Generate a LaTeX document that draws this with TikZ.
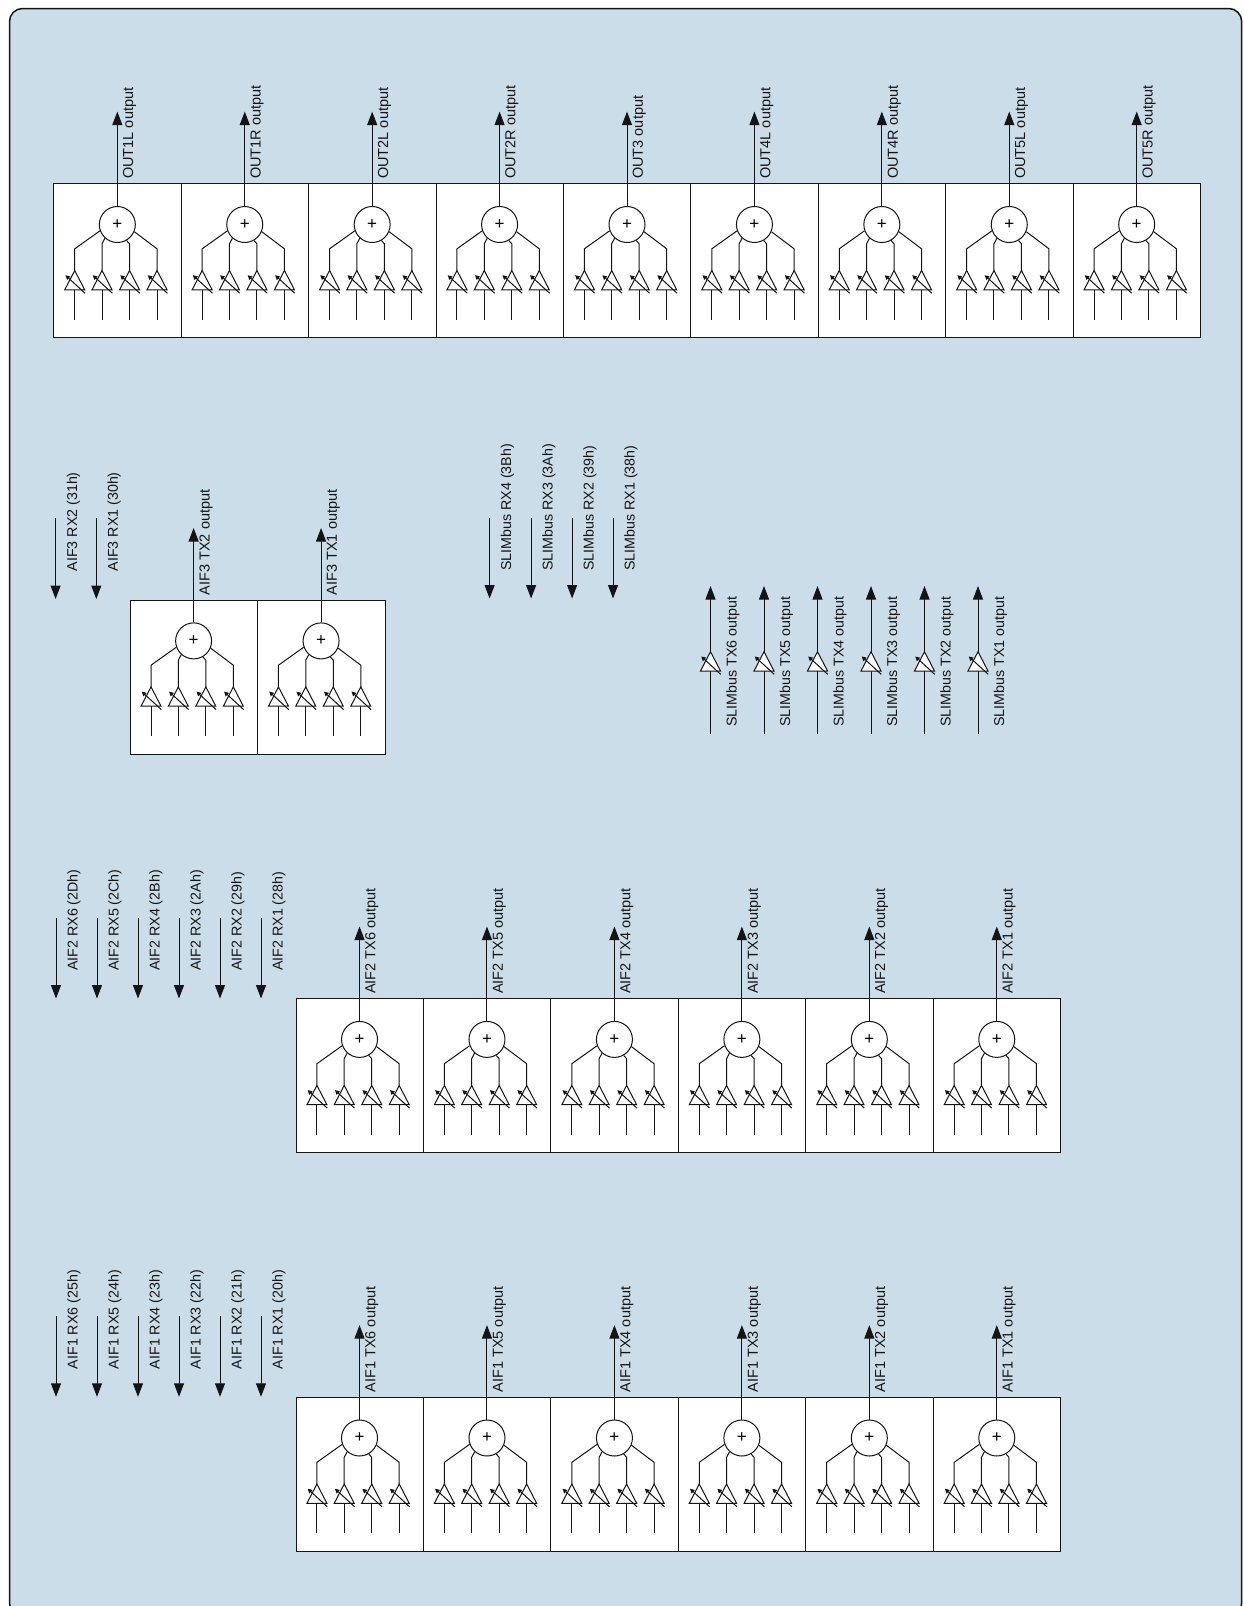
\documentclass[tikz,border=0pt]{standalone}
\usepackage{fontspec}
\setmainfont{Liberation Sans}
\usetikzlibrary{arrows.meta,calc}
\definecolor{panelblue}{RGB}{203,221,233}
\definecolor{inkline}{RGB}{20,20,20}
\tikzset{
  x=1pt,y=-1pt,
  wire/.style={draw=inkline,line width=1pt},
  sigarrow/.style={wire,-{Triangle[length=13.5pt,width=10pt]}},
  mixbox/.style={draw=inkline,line width=1pt,fill=white,minimum width=127.45pt,minimum height=154pt,inner sep=0,anchor=north west},
  sumcircle/.style={circle,draw=inkline,line width=1pt,fill=white,minimum size=36pt,inner sep=0,font=\fontsize{17}{17}\selectfont},
  lab/.style={rotate=90,anchor=base west,inner sep=0,text=inkline,font=\fontsize{14.25}{14.25}\selectfont},
  outlab/.style={lab,font=\fontsize{14.5}{14.5}\selectfont},
  amptri/.style={wire,fill=white,line join=miter},
  ampslash/.style={draw=inkline,line width=1pt,{Triangle[length=4.5pt,width=4.5pt]}-},
}
% amplifier triangle: name, apex coordinate
\newcommand{\ampl}[2]{%
  \coordinate (#1apex) at #2;
  \coordinate (#1bl) at ($(#1apex)+(-10,19.3)$);
  \coordinate (#1br) at ($(#1apex)+(10,19.3)$);
  \coordinate (#1s) at ($(#1apex)+(-9.3,4.7)$);
  \coordinate (#1e) at ($(#1apex)+(10.3,22.7)$);
  \draw[amptri] (#1apex) -- (#1bl) -- (#1br) -- cycle;
  \draw[ampslash] (#1s) -- (#1e);
}
% mixer: name, left x, top y, label
\newcommand{\mixer}[4]{%
  \node[mixbox] (#1box) at (#2,#3) {};
  \node[sumcircle] (#1sum) at ($(#1box.north)+(-0.2,41.1)$) {+};
  \coordinate (#1tip) at ($(#1box.north)+(-0.2,-71.8)$);
  \draw[sigarrow] (#1sum.north) -- (#1tip);
  \node[outlab] (#1lab) at ($(#1box.north)+(15.7,-4.4)$) {#4};
  \foreach \i/\dx/\ang/\elb in {1/-42.6/200/65.4,2/-15.3/228/60.4,3/12.2/300/60.4,4/39.7/337/65.4}{%
    \coordinate (#1top\i) at ($(#1sum.center)+(\dx,\elb-41.1)$);
    \coordinate (#1a\i) at ($(#1sum.center)+(\dx,46)$);
    \coordinate (#1in\i) at ($(#1sum.center)+(\dx,95.3)$);
    \draw[wire,line join=miter] (#1sum.\ang) -- (#1top\i) -- (#1a\i);
    \draw[wire] (#1in\i) -- ($(#1a\i)+(0,19.3)$);
    \ampl{#1amp\i}{(#1a\i)}%
  }%
}
% free input arrow: name, x, tip y, label
\newcommand{\rxline}[4]{%
  \coordinate (#1tip) at (#2,#3);
  \coordinate (#1start) at (#2,#3-81);
  \draw[sigarrow] (#1start) -- (#1tip);
  \node[lab] (#1lab) at (#2+21.6,#3-27.5) {#4};
}
% SLIMbus TX: name, x, label
\newcommand{\txline}[3]{%
  \coordinate (#1tip) at (#2,586);
  \coordinate (#1start) at (#2,734);
  \draw[sigarrow] (#1start) -- (#1tip);
  \ampl{#1amp}{(#2,651.7)}%
  \node[lab] (#1lab) at (#2+26,726.7) {#3};
}
\begin{document}
\begin{tikzpicture}
\useasboundingbox (0,0) rectangle (1243,1606);
\begin{scope}
\clip (0,0) rectangle (1243,1606);
\draw[draw=inkline,line width=1.5pt,fill=panelblue,rounded corners=13pt] (9.5,8.5) rectangle (1241.7,1616);
\end{scope}
% outputs
\foreach \n/\t [count=\k from 0] in {a/OUT1L,b/OUT1R,c/OUT2L,d/OUT2R,e/OUT3,f/OUT4L,g/OUT4R,h/OUT5L,i/OUT5R}{%
  \pgfmathsetmacro{\xx}{53.3+127.42*\k}
  \mixer{out\n}{\xx}{183.4}{\t\ output}
}
% AIF3
\rxline{aifthreerxb}{55.6}{599}{AIF3 RX2 (31h)}
\rxline{aifthreerxa}{96.3}{599}{AIF3 RX1 (30h)}
\mixer{aifthreeb}{129.6}{599.8}{AIF3 TX2 output}
\mixer{aifthreea}{257.05}{599.8}{AIF3 TX1 output}
% SLIMbus RX
\rxline{slimrxd}{489.6}{598.5}{SLIMbus RX4 (3Bh)}
\rxline{slimrxc}{531.1}{598.5}{SLIMbus RX3 (3Ah)}
\rxline{slimrxb}{572.1}{598.5}{SLIMbus RX2 (39h)}
\rxline{slimrxa}{613}{598.5}{SLIMbus RX1 (38h)}
% SLIMbus TX
\foreach \n/\v [count=\k from 0] in {f/6,e/5,d/4,c/3,b/2,a/1}{%
  \pgfmathsetmacro{\xx}{710.5+53.5*\k}
  \txline{slimtx\n}{\xx}{SLIMbus TX\v\ output}
}
% AIF2
\foreach \n/\v/\h [count=\k from 0] in {f/6/2Dh,e/5/2Ch,d/4/2Bh,c/3/2Ah,b/2/29h,a/1/28h}{%
  \pgfmathsetmacro{\xx}{56+41*\k}
  \rxline{aiftworx\n}{\xx}{998.5}{AIF2 RX\v\ (\h)}
  \pgfmathsetmacro{\bx}{295.5+127.45*\k}
  \mixer{aiftwo\n}{\bx}{998.3}{AIF2 TX\v\ output}
}
% AIF1
\foreach \n/\v/\h [count=\k from 0] in {f/6/25h,e/5/24h,d/4/23h,c/3/22h,b/2/21h,a/1/20h}{%
  \pgfmathsetmacro{\xx}{56+41*\k}
  \rxline{aifonerx\n}{\xx}{1396.8}{AIF1 RX\v\ (\h)}
  \pgfmathsetmacro{\bx}{295.5+127.45*\k}
  \mixer{aifone\n}{\bx}{1396.9}{AIF1 TX\v\ output}
}
\end{tikzpicture}
\end{document}
